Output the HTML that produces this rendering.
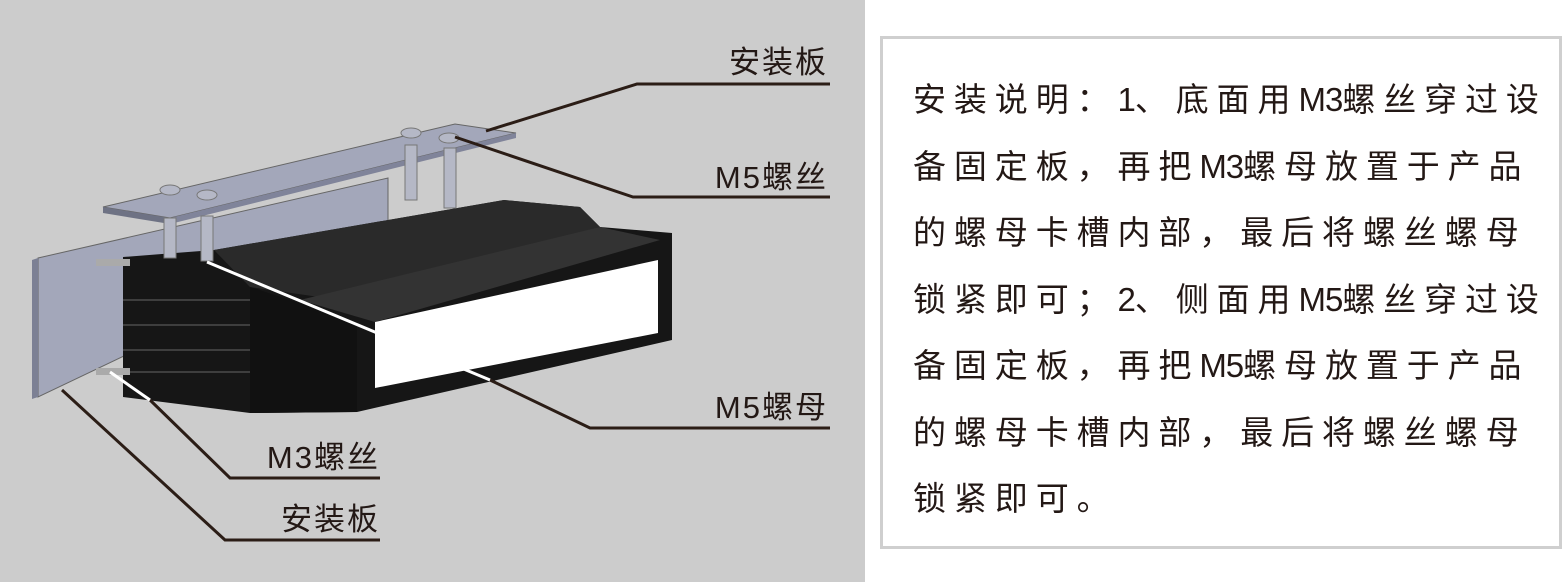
<!DOCTYPE html>
<html><head><meta charset="utf-8"><style>
html,body{margin:0;padding:0;width:1568px;height:586px;background:#fff;overflow:hidden}
.t{position:absolute;left:913px;top:67px;font-family:"Liberation Sans","Noto Sans CJK SC",sans-serif;font-size:33px;line-height:66.5px;letter-spacing:7.9px;color:#231815;white-space:nowrap}
.t b{font-weight:normal;letter-spacing:-1px}
.box{position:absolute;left:880px;top:36px;width:676px;height:507px;border:3px solid #cfcfcf}
</style></head><body>
<svg width="1568" height="586" style="position:absolute;left:0;top:0">
<rect x="0" y="0" width="865" height="582" fill="#cccccc"/>
<polygon points="38,258 388,178 388,230 38,397" fill="#a3a7ba" stroke="#666" stroke-width="1"/>
<polygon points="32,260 38,258 38,397 32,399" fill="#7c8094"/>
<polygon points="123,257 214,250 504,200 580,207 600,227 672,233 672,340 357,412 250,413 123,397" fill="#161616"/>
<polygon points="214,250 504,200 580,207 600,227 340,300 250,287" fill="#2a2a2a"/>
<polygon points="300,300 600,227 660,240 375,322" fill="#333"/>
<g stroke="#3e3e3e" stroke-width="2">
<line x1="123" y1="300" x2="250" y2="300"/><line x1="123" y1="325" x2="250" y2="325"/><line x1="123" y1="350" x2="250" y2="350"/><line x1="123" y1="372" x2="250" y2="372"/>
</g>
<polygon points="250,287 357,322 357,412 250,413" fill="#111"/>
<polygon points="375,322 658,260 658,333 375,388" fill="#fff"/>
<rect x="96" y="259" width="34" height="7" fill="#aaa"/>
<rect x="96" y="368" width="34" height="7" fill="#aaa"/>
<polygon points="103,207 455,124 516,133 170,218" fill="#a3a7ba" stroke="#666"/>
<polygon points="103,207 170,218 170,224 103,213" fill="#6e7284"/>
<polygon points="170,218 516,133 516,138 170,224" fill="#80849a"/>
<g fill="#b5b8c6" stroke="#777">
<rect x="164" y="218" width="12" height="40"/><rect x="201" y="216" width="12" height="45"/>
<rect x="405" y="145" width="12" height="55"/><rect x="444" y="148" width="12" height="60"/>
<ellipse cx="170" cy="190" rx="10" ry="5"/><ellipse cx="207" cy="195" rx="10" ry="5"/>
<ellipse cx="411" cy="133" rx="10" ry="5"/><ellipse cx="449" cy="138" rx="10" ry="5"/>
</g>
<g stroke="#2b1d16" stroke-width="3" fill="none">
<polyline points="486,131 637,84 830,84"/>
<polyline points="455,137 633,197 830,197"/>
<polyline points="490,380 590,428 830,428"/>
<polyline points="150,400 230,478 380,478"/>
<polyline points="62,390 225,540 380,540"/>
</g>
<g stroke="#fff" stroke-width="3"><line x1="207" y1="262" x2="490" y2="380"/><line x1="110" y1="372" x2="150" y2="400"/></g>
<g font-family="Liberation Sans,Noto Sans CJK SC,sans-serif" font-size="31" fill="#231815" text-anchor="end" letter-spacing="2">
<text x="828" y="73">安装板</text>
<text x="828" y="188">M5螺丝</text>
<text x="828" y="418">M5螺母</text>
<text x="380" y="468">M3螺丝</text>
<text x="380" y="530">安装板</text>
</g>
</svg>
<div class="box"></div>
<div class="t">安装说明：<b>1</b>、底面用<b>M3</b>螺丝穿过设<br>备固定板，再把<b>M3</b>螺母放置于产品<br>的螺母卡槽内部，最后将螺丝螺母<br>锁紧即可；<b>2</b>、侧面用<b>M5</b>螺丝穿过设<br>备固定板，再把<b>M5</b>螺母放置于产品<br>的螺母卡槽内部，最后将螺丝螺母<br>锁紧即可。</div>
</body></html>
